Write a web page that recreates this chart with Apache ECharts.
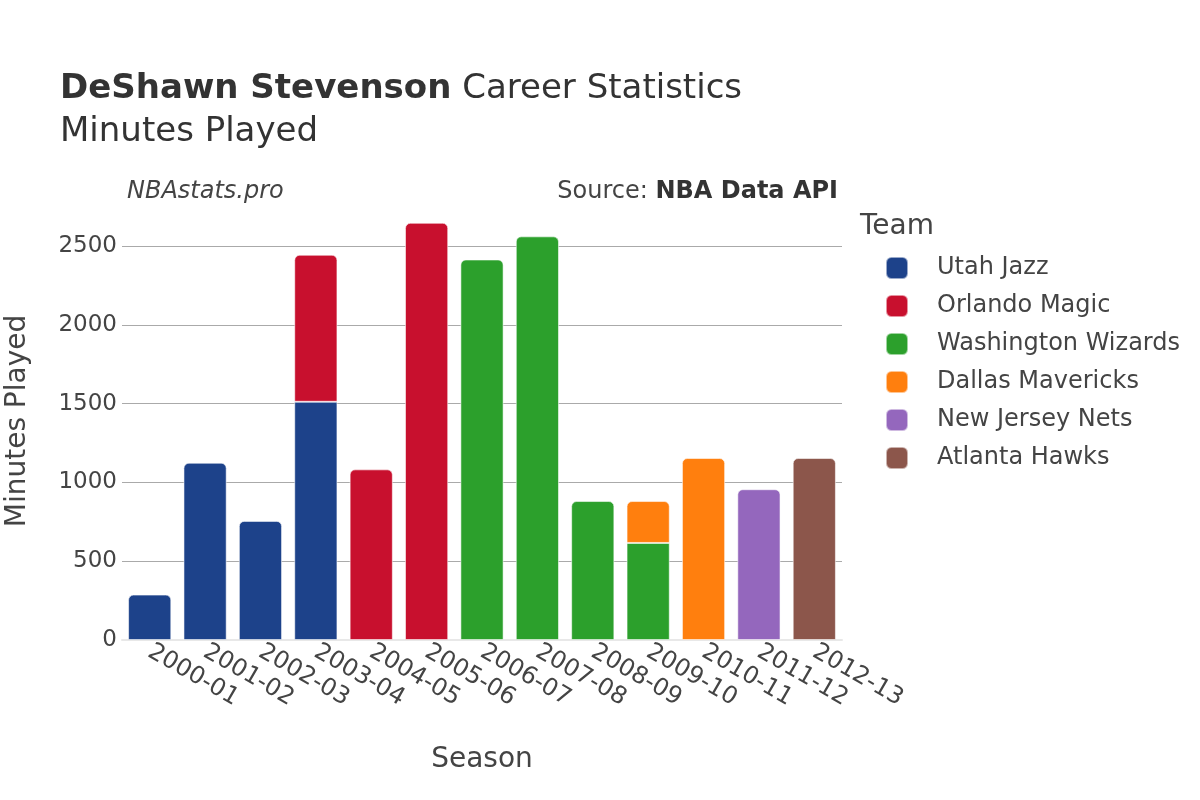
<!DOCTYPE html>
<html>
<head>
<meta charset="utf-8">
<script src="https://cdn.jsdelivr.net/npm/echarts@6/dist/echarts.min.js"></script>
<style>html,body{margin:0;padding:0;background:#fff}#c{width:1200px;height:800px}</style>
</head>
<body>
<div id="c"></div>
<script>
const seasons = ['2000-01','2001-02','2002-03','2003-04','2004-05','2005-06','2006-07','2007-08','2008-09','2009-10','2010-11','2011-12','2012-13'];
const teams = ['Utah Jazz','Orlando Magic','Washington Wizards','Dallas Mavericks','New Jersey Nets','Atlanta Hawks'];
const teamColors = ['#1d428a','#c8102e','#2ca02c','#ff7f0e','#9467bd','#8c564b'];
const utahJazz          = [288, 1125, 756, 1512, null, null, null, null, null, null, null, null, null];
const orlandoMagic      = [null, null, null, 933, 1083, 2648, null, null, null, null, null, null, null];
const washingtonWizards = [null, null, null, null, null, null, 2415, 2562, 882, 616, null, null, null];
const dallasMavericks   = [null, null, null, null, null, null, null, null, null, 266, 1155, null, null];
const newJerseyNets     = [null, null, null, null, null, null, null, null, null, null, null, 957, null];
const atlantaHawks      = [null, null, null, null, null, null, null, null, null, null, null, null, 1155];
const yTicks = [0, 500, 1000, 1500, 2000, 2500];

const teamData = [utahJazz, orlandoMagic, washingtonWizards, dallasMavericks, newJerseyNets, atlantaHawks];
const FONT = 'DejaVu Sans';
const TXT = '#444';

const topIdx = seasons.map((s, i) => {
  let t = -1;
  teamData.forEach((d, k) => { if (d[i] != null) t = k; });
  return t;
});

const series = teams.map((name, k) => ({
  name,
  type: 'bar',
  stack: 'total',
  barCategoryGap: '22%',
  itemStyle: { color: teamColors[k], borderColor: 'rgba(255,255,255,0.55)', borderWidth: 1 },
  emphasis: { disabled: true },
  data: teamData[k].map((v, i) => v == null ? '-' : (topIdx[i] === k ? { value: v, itemStyle: { borderRadius: [5,5,0,0] } } : v))
}));

const chart = echarts.init(document.getElementById('c'));
chart.setOption({
  animation: false,
  backgroundColor: '#fff',
  textStyle: { fontFamily: FONT },
  grid: { left: 122, right: 358, top: 202, bottom: 160, containLabel: false, outerBoundsMode: 'none' },
  graphic: [
    { type: 'text', x: 60, y: 89, style: { text: '{b|DeShawn Stevenson} Career Statistics', rich: { b: { fontWeight: 'bold', fontSize: 34, fontFamily: FONT, fill: '#333' } }, font: '34px "DejaVu Sans"', fill: '#333', verticalAlign: 'middle', textVerticalAlign: 'middle' } },
    { type: 'text', x: 60, y: 132, style: { text: 'Minutes Played', font: '34px "DejaVu Sans"', fill: '#333', verticalAlign: 'middle', textVerticalAlign: 'middle' } },
    { type: 'text', x: 127, y: 192, style: { text: 'NBAstats.pro', font: 'italic 24px "DejaVu Sans"', fill: TXT, verticalAlign: 'middle', textVerticalAlign: 'middle' } },
    { type: 'text', x: 838, y: 192, style: { text: 'Source: {b|NBA Data API}', rich: { b: { fontWeight: 'bold', fontSize: 24, fontFamily: FONT, fill: '#333' } }, font: '24px "DejaVu Sans"', fill: TXT, align: 'right', textAlign: 'right', verticalAlign: 'middle', textVerticalAlign: 'middle' } },
    { type: 'text', x: 860, y: 227, style: { text: 'Team', font: '28px "DejaVu Sans"', fill: TXT, verticalAlign: 'middle', textVerticalAlign: 'middle' } }
  ],
  legend: {
    orient: 'vertical', left: 880, top: 251,
    itemWidth: 22, itemHeight: 22, itemGap: 14,
    icon: 'roundRect',
    data: teams,
    textStyle: { fontSize: 24, color: TXT, fontFamily: FONT, padding: [0, 0, 0, 24] }
  },
  xAxis: {
    type: 'category', data: seasons,
    name: 'Season', nameLocation: 'middle', nameGap: 106,
    nameTextStyle: { fontSize: 28, color: TXT, fontFamily: FONT },
    axisLine: { show: true, lineStyle: { color: '#e8e8e8', width: 2 } },
    axisTick: { show: false },
    axisLabel: { interval: 0, rotate: -30, fontSize: 24, color: TXT, fontFamily: FONT, margin: 10 }
  },
  yAxis: {
    type: 'value', min: 0, max: 2780, interval: 500,
    name: 'Minutes Played', nameLocation: 'middle', nameGap: 90, nameRotate: 90,
    nameTextStyle: { fontSize: 28, color: TXT, fontFamily: FONT },
    axisLine: { show: false }, axisTick: { show: false },
    axisLabel: { fontSize: 23, color: TXT, fontFamily: FONT, margin: 5, showMaxLabel: false,
      formatter: v => yTicks.includes(v) ? String(v) : '' },
    splitLine: { show: true, showMaxLine: false, showMinLine: false, lineStyle: { color: '#aaaaaa', width: 1 } }
  },
  series
});
</script>
</body>
</html>
